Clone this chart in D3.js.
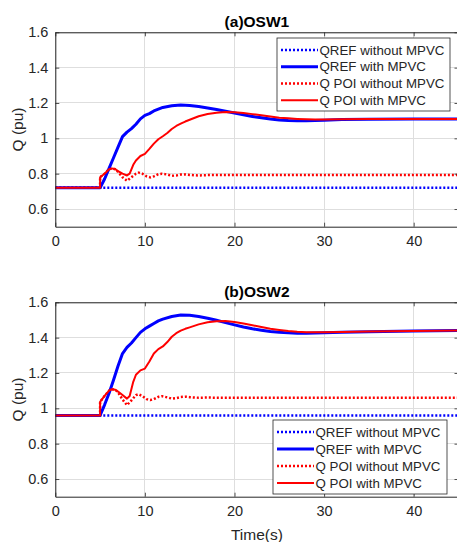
<!DOCTYPE html>
<html>
<head>
<meta charset="utf-8">
<script src="https://cdn.jsdelivr.net/npm/d3@7"></script>
<style>
  html, body { margin: 0; padding: 0; background: #fff; }
  svg { display: block; font-family: "Liberation Sans", Arial, sans-serif; }
</style>
</head>
<body>
<svg id="chart" width="457" height="542"></svg>
<script>
// ---------------- data ----------------
const seriesNames = ["QREF without MPVC", "QREF with MPVC", "Q POI without MPVC", "Q POI with MPVC"];
const panelTitles = ["(a)OSW1", "(b)OSW2"];
const xTicks = [0, 10, 20, 30, 40];
const yTicks = [0.6, 0.8, 1.0, 1.2, 1.4, 1.6];
const yTickLabels = ["0.6", "0.8", "1", "1.2", "1.4", "1.6"];

const tFlat = [0, 45];
const tRef = [0,5,5.5,6,6.5,7,7.5,8,8.5,9,9.5,10,10.5,11,11.5,12,13,14,15,16,17,18,19,20,21,22,23,24,25,26,27,28,29,30,32,35,40,45];
const tPoi = [0,5,5,5.5,6,6.3,6.7,7,7.5,8,8.3,8.7,9,9.5,10,10.5,11,11.5,12,12.5,13,13.5,14,14.5,15,16,17,18,19,20,21,22,23,24,25,26,27,28,29,30,32,35,40,45];
const tPoiNo = [0,5,5,5.5,6,6.3,6.7,7,7.5,8,8.5,9,9.3,9.7,10.2,10.6,11,11.5,11.9,12.5,13,13.5,14,14.5,15,16,17,18,20,25,30,35,40,45];

// OSW1
const osw1RefNo = [0.72, 0.72];
const osw1RefWith = [0.72,0.72,0.77,0.83,0.89,0.95,1.01,1.035,1.055,1.08,1.11,1.13,1.14,1.155,1.165,1.175,1.184,1.188,1.186,1.18,1.172,1.163,1.153,1.143,1.133,1.124,1.116,1.109,1.104,1.101,1.1,1.1,1.101,1.103,1.106,1.108,1.11,1.11];
const osw1PoiNo = [0.72,0.72,0.78,0.80,0.825,0.83,0.825,0.81,0.78,0.76,0.78,0.80,0.806,0.80,0.785,0.779,0.785,0.797,0.80,0.795,0.788,0.79,0.795,0.796,0.793,0.79,0.792,0.792,0.792,0.792,0.792,0.792,0.792,0.792];
const osw1PoiWith = [0.72,0.72,0.78,0.80,0.825,0.83,0.825,0.815,0.80,0.79,0.80,0.85,0.875,0.9,0.912,0.94,0.97,0.995,1.012,1.03,1.053,1.07,1.083,1.095,1.105,1.125,1.138,1.145,1.149,1.147,1.143,1.137,1.13,1.123,1.117,1.113,1.11,1.108,1.107,1.107,1.108,1.109,1.11,1.11];

// OSW2
const osw2RefNo = [0.96, 0.96];
const osw2RefWith = [0.96,0.96,1.02,1.085,1.16,1.24,1.31,1.345,1.37,1.40,1.43,1.45,1.465,1.48,1.495,1.505,1.52,1.528,1.527,1.52,1.51,1.498,1.485,1.472,1.46,1.45,1.442,1.435,1.43,1.427,1.425,1.425,1.426,1.428,1.431,1.434,1.438,1.44];
const osw2PoiNo = [0.96,0.96,1.037,1.07,1.1,1.108,1.105,1.09,1.05,1.018,1.045,1.075,1.08,1.07,1.052,1.047,1.052,1.065,1.069,1.062,1.055,1.058,1.064,1.066,1.063,1.06,1.061,1.06,1.06,1.06,1.06,1.06,1.06,1.06];
const osw2PoiWith = [0.96,0.96,1.037,1.07,1.1,1.108,1.105,1.095,1.075,1.055,1.07,1.15,1.19,1.215,1.225,1.265,1.31,1.335,1.35,1.375,1.405,1.425,1.44,1.45,1.458,1.475,1.487,1.493,1.494,1.488,1.48,1.47,1.46,1.45,1.443,1.437,1.433,1.431,1.43,1.43,1.432,1.435,1.438,1.44];

// ---------------- styles ----------------
const styles = [
  { color: "#0000ff", width: 2.5, dash: "2,2" },
  { color: "#0000ff", width: 3, dash: null },
  { color: "#ff0000", width: 2.5, dash: "2,2" },
  { color: "#ff0000", width: 2, dash: null }
];
const axisColor = "#262626";
const gridColor = "#dedede";

const panels = [
  { title: panelTitles[0], top: 32.3, bottom: 226.7,
    series: [[tFlat, osw1RefNo], [tRef, osw1RefWith], [tPoiNo, osw1PoiNo], [tPoi, osw1PoiWith]],
    legend: { x: 277, y: 38, w: 173, h: 73 } },
  { title: panelTitles[1], top: 302.3, bottom: 496.7,
    series: [[tFlat, osw2RefNo], [tRef, osw2RefWith], [tPoiNo, osw2PoiNo], [tPoi, osw2PoiWith]],
    legend: { x: 273, y: 420, w: 174, h: 74 }, xlabel: "Time(s)" }
];

const svg = d3.select("#chart");
const left = 55.3, right = 458.5;
const x = d3.scaleLinear().domain([0, 45]).range([left, right]);

panels.forEach((p, pi) => {
  const y = d3.scaleLinear().domain([0.5, 1.6]).range([p.bottom, p.top]);
  const g = svg.append("g");
  const clipId = "clip" + pi;
  svg.append("clipPath").attr("id", clipId)
    .append("rect").attr("x", left).attr("y", p.top).attr("width", right - left).attr("height", p.bottom - p.top);

  // grid
  g.selectAll(".gx").data(xTicks).join("line")
    .attr("x1", d => x(d)).attr("x2", d => x(d)).attr("y1", p.top).attr("y2", p.bottom)
    .attr("stroke", gridColor).attr("stroke-width", 1).attr("shape-rendering", "crispEdges");
  g.selectAll(".gy").data(yTicks).join("line")
    .attr("x1", left).attr("x2", right).attr("y1", d => y(d)).attr("y2", d => y(d))
    .attr("stroke", gridColor).attr("stroke-width", 1).attr("shape-rendering", "crispEdges");

  // series
  const line = d3.line().x(d => x(d[0])).y(d => y(d[1]));
  const order = [0, 2, 1, 3];
  order.forEach(si => {
    const [ts, vs] = p.series[si];
    const pts = ts.map((t, i) => [t, vs[i]]);
    const st = styles[si];
    g.append("path").datum(pts).attr("d", line)
      .attr("fill", "none").attr("stroke", st.color).attr("stroke-width", st.width)
      .attr("stroke-dasharray", st.dash).attr("stroke-linejoin", "round")
      .attr("clip-path", `url(#${clipId})`);
  });

  // axes (MATLAB-style box with inward ticks)
  const xAxisB = d3.axisBottom(x).tickValues(xTicks).tickSizeInner(-4).tickSizeOuter(0).tickPadding(9);
  const xAxisT = d3.axisTop(x).tickValues(xTicks).tickSizeInner(-4).tickSizeOuter(0).tickFormat("");
  const yAxisL = d3.axisLeft(y).tickValues(yTicks).tickSizeInner(-4).tickSizeOuter(0).tickPadding(7)
    .tickFormat((d, i) => yTickLabels[i]);
  const yAxisR = d3.axisRight(y).tickValues(yTicks).tickSizeInner(-4).tickSizeOuter(0).tickFormat("");

  const styleAxis = sel => {
    sel.selectAll("path").attr("stroke", axisColor).attr("stroke-width", 1);
    sel.selectAll("line").attr("stroke", axisColor).attr("stroke-width", 0.8);
    sel.selectAll("text").attr("fill", axisColor).attr("font-size", 14.5)
      .attr("font-family", "'Liberation Sans', Arial, sans-serif");
  };
  g.append("g").attr("transform", `translate(0,${p.bottom})`).call(xAxisB).call(styleAxis);
  g.append("g").attr("transform", `translate(0,${p.top})`).call(xAxisT).call(styleAxis);
  g.append("g").attr("transform", `translate(${left},0)`).call(yAxisL).call(styleAxis);
  g.append("g").attr("transform", `translate(${right},0)`).call(yAxisR).call(styleAxis);

  // title
  g.append("text").attr("x", (left + right) / 2).attr("y", p.top - 5.5)
    .attr("text-anchor", "middle").attr("font-weight", "bold").attr("font-size", 15.5)
    .attr("fill", "#000").text(p.title);

  // y label
  g.append("text").attr("transform", `translate(23,${(p.top + p.bottom) / 2}) rotate(-90)`)
    .attr("text-anchor", "middle").attr("font-size", 15.5).attr("fill", axisColor).text("Q (pu)");

  if (p.xlabel) {
    g.append("text").attr("x", (left + right) / 2).attr("y", 539.5)
      .attr("text-anchor", "middle").attr("font-size", 15.5).attr("fill", axisColor).text(p.xlabel);
  }

  // legend
  const L = p.legend;
  const lg = g.append("g");
  lg.append("rect").attr("x", L.x).attr("y", L.y).attr("width", L.w).attr("height", L.h)
    .attr("fill", "#fff").attr("stroke", axisColor).attr("stroke-width", 0.8);
  const rowH = (L.h - 6) / 4;
  seriesNames.forEach((name, i) => {
    const cy = L.y + 3 + rowH * (i + 0.5) + 0.5;
    const st = styles[i];
    lg.append("line").attr("x1", L.x + 4).attr("x2", L.x + 41).attr("y1", cy).attr("y2", cy)
      .attr("stroke", st.color).attr("stroke-width", st.width).attr("stroke-dasharray", st.dash);
    lg.append("text").attr("x", L.x + 42.5).attr("y", cy).attr("dy", "0.36em")
      .attr("font-size", 13.3).attr("fill", axisColor).text(name);
  });
});
</script>
</body>
</html>
